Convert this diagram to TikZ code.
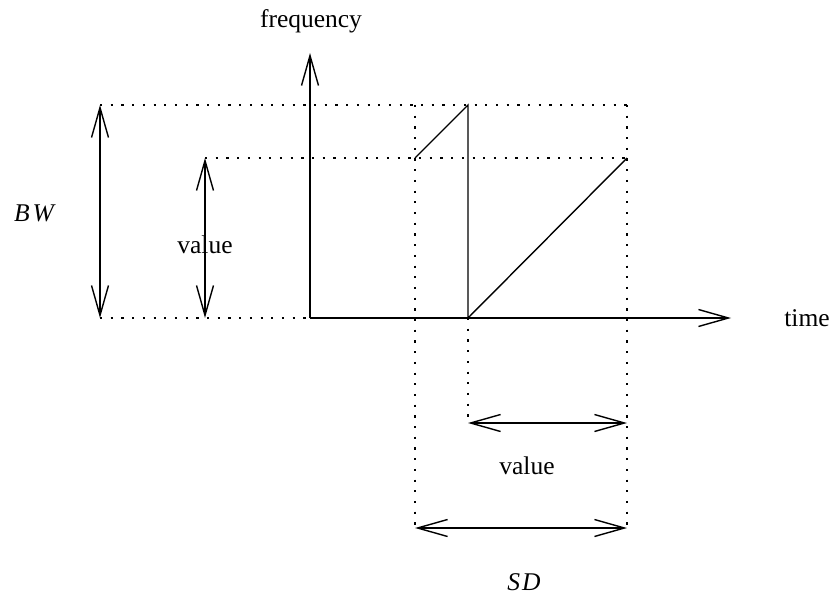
\documentclass[tikz,border=0pt]{standalone}
\usepackage{fontspec}
\setmainfont{Liberation Serif}
\usetikzlibrary{arrows.meta}
\begin{document}
\begin{tikzpicture}[x=1pt,y=-1pt,
  axis/.style={line width=1.4pt,-{Straight Barb[length=30pt,width=17pt,line width=1.4pt]}},
  dim/.style={line width=1.4pt,{Straight Barb[length=30pt,width=17pt,line width=1.4pt]}-{Straight Barb[length=30pt,width=17pt,line width=1.4pt]}},
  guide/.style={line width=1.8pt,dash pattern=on 2.2pt off 8.5pt},
  lbl/.style={font=\fontsize{25.5}{30}\selectfont,inner sep=0pt}]
\useasboundingbox (0,0) rectangle (832,596);
% coordinates
\coordinate (O) at (310,318);
\coordinate (Ytip) at (310,53);
\coordinate (Xtip) at (731,318);
\coordinate (TL) at (100,105);
\coordinate (TR) at (627,105);
\coordinate (ML) at (205,158);
\coordinate (MR) at (627,158);
\coordinate (BL) at (100,318);
\coordinate (VL) at (205,318);
\coordinate (P1) at (415,158);
\coordinate (P2) at (468,105);
\coordinate (P3) at (468,318);
\coordinate (D1top) at (415,105);
\coordinate (D1bot) at (415,528);
\coordinate (D2bot) at (627,528);
\coordinate (D3bot) at (468,423);
\coordinate (D4bot) at (627,423);
% guides
\draw[guide] (TL) -- (TR);
\draw[guide] (ML) -- (MR);
\draw[guide] (BL) -- (O);
\draw[guide] (D1top) -- (D1bot);
\draw[guide] (TR) -- (D2bot);
\draw[guide] (P3) -- (D3bot);
% axes
\draw[axis] (O) -- (Ytip);
\draw[axis] (O) -- (Xtip);
% sawtooth
\draw[line width=1.4pt,line join=miter] (P1) -- (P2) -- (P3) -- (MR);
% dimension arrows
\draw[dim] (TL) -- (BL);
\draw[dim] (ML) -- (VL);
\draw[dim] (D3bot) -- (D4bot);
\draw[dim] (D1bot) -- (D2bot);
% labels
\node[lbl] (freq) at (311,21) {frequency};
\node[lbl] (time) at (807,318) {time};
\node[lbl] (bw) at (35,213) {\textit{B\kern3pt W}};
\node[lbl] (val1) at (205,245) {value};
\node[lbl] (val2) at (527,466) {value};
\node[lbl] (sd) at (524,582) {\textit{S\kern2pt D}};
\end{tikzpicture}
\end{document}
